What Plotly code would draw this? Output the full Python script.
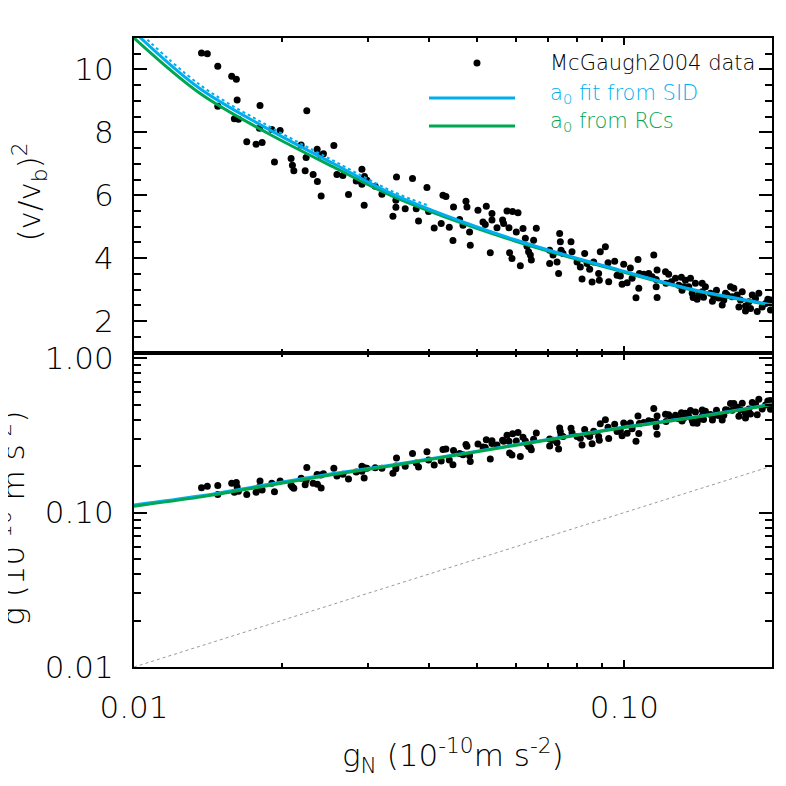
"""Two-panel plot: (v/v_b)^2 and g versus g_N, McGaugh2004 data with a0 fits"""

import numpy as np
import plotly.graph_objects as go
from plotly.subplots import make_subplots

# McGaugh2004 data points: Newtonian acceleration and (v/v_b)^2
gN_data = [
    0.01373, 0.01411, 0.01482, 0.01582, 0.01617, 0.01623, 0.01482, 0.01807, 0.02251, 0.01602,
    0.01633, 0.01802, 0.0191, 0.01986, 0.01698, 0.01774, 0.01825, 0.02192, 0.02363, 0.02556,
    0.02434, 0.02404, 0.02091, 0.02244, 0.01934, 0.02104, 0.02118, 0.02234, 0.02319, 0.02366,
    0.02593, 0.02408, 0.02667, 0.02738, 0.02839, 0.02916, 0.02916, 0.02951, 0.02985, 0.02947,
    0.03203, 0.03104, 0.0343, 0.03698, 0.03957, 0.0342, 0.0342, 0.03373, 0.03573, 0.03763,
    0.03804, 0.03987, 0.04266, 0.04326, 0.04483, 0.04753, 0.04775, 0.05028, 0.04231, 0.04094,
    0.04395, 0.04613, 0.04687, 0.04834, 0.04471, 0.0485, 0.05229, 0.0537, 0.05763, 0.05916,
    0.06069, 0.05148, 0.05204, 0.0537, 0.05645, 0.05672, 0.05498, 0.05817, 0.0602, 0.06213,
    0.06613, 0.05328, 0.05833, 0.05899, 0.06281, 0.0653, 0.0633, 0.06378, 0.0643, 0.06135,
    0.0646, 0.07379, 0.07403, 0.07041, 0.07154, 0.07041, 0.0729, 0.07427, 0.07496, 0.07783,
    0.0782, 0.07343, 0.08299, 0.08007, 0.08132, 0.08393, 0.08657, 0.08496, 0.08197, 0.08593,
    0.0893, 0.09147, 0.08861, 0.0889, 0.09262, 0.09555, 0.0929, 0.09663, 0.09813, 0.09968,
    0.10285, 0.09892, 0.1013, 0.1037, 0.1066, 0.1073, 0.1095, 0.1121, 0.107, 0.1148,
    0.1166, 0.1139, 0.1161, 0.1161, 0.1056, 0.1166, 0.1213, 0.1231, 0.1216, 0.1247,
    0.1271, 0.1307, 0.1332, 0.1364, 0.1291, 0.1321, 0.1353, 0.1311, 0.1381, 0.1396,
    0.1375, 0.1407, 0.1418, 0.1441, 0.1463, 0.1441, 0.1498, 0.1521, 0.1583, 0.1595,
    0.1621, 0.1608, 0.1646, 0.1672, 0.1659, 0.1698, 0.1739, 0.1712, 0.1766, 0.1794,
    0.1808, 0.1823, 0.1851, 0.188, 0.191, 0.194, 0.1961, 0.1866, 0.1766,
    0.1986, 0.1986, 0.1512, 0.1556, 0.1725, 0.145, 0.1541,
]
ratio_data = [
    10.52, 10.50, 10.10, 9.78, 9.69, 9.03, 8.83, 8.85, 8.69, 8.43,
    8.42, 8.13, 8.09, 8.06, 7.70, 7.62, 7.68, 7.60, 7.46, 7.58,
    7.32, 7.28, 7.17, 7.20, 7.06, 6.95, 6.78, 6.78, 6.66, 6.44,
    6.66, 5.98, 6.63, 6.02, 6.45, 6.35, 6.83, 6.60, 6.48, 5.68,
    6.03, 6.29, 6.58, 6.53, 6.25, 5.84, 5.62, 5.33, 5.57, 5.57,
    5.18, 5.48, 6.00, 5.96, 5.63, 5.81, 5.63, 5.52, 5.10, 4.96,
    4.98, 5.23, 5.05, 4.83, 4.56, 4.41, 5.65, 5.42, 5.50, 5.48,
    5.44, 5.15, 5.07, 5.21, 5.21, 5.10, 4.97, 4.97, 4.83, 4.94,
    4.95, 4.17, 4.17, 3.99, 4.63, 4.57, 4.38, 4.20, 4.10, 3.76,
    3.94, 4.78, 4.52, 4.25, 4.10, 3.83, 3.88, 4.25, 4.15, 4.52,
    4.20, 3.51, 4.15, 3.88, 3.72, 3.83, 3.88, 3.65, 3.34, 3.24,
    4.20, 4.36, 3.51, 3.30, 3.85, 3.90, 3.25, 3.46, 3.43, 3.81,
    3.69, 3.17, 3.22, 3.36, 3.96, 3.51, 3.49, 3.51, 3.04, 4.10,
    3.62, 3.41, 3.32, 3.09, 2.74, 2.75, 3.57, 3.49, 3.20, 3.25,
    3.36, 3.39, 3.30, 3.36, 3.14, 3.09, 3.09, 2.98, 2.75, 3.20,
    2.88, 2.69, 2.83, 3.20, 3.09, 2.93, 2.88, 2.79, 2.51, 2.67,
    2.83, 2.88, 3.09, 3.04, 2.77, 2.83, 2.93, 2.45, 2.48, 2.61,
    2.40, 2.83, 2.72, 2.88, 2.45, 2.56, 2.69, 2.30, 2.32,
    2.67, 2.35, 2.63, 2.73, 2.67, 2.76, 2.98,
]

# fitted curves
fit_gN = [0.01, 0.0136, 0.0187, 0.0255, 0.0338, 0.0594, 0.1, 0.1364, 0.2]
fit_ratio_sid = [11.2, 9.40, 8.12, 7.01, 6.03, 4.60, 3.58, 3.02, 2.52]
fit_ratio_rc = [11.0, 9.25, 7.98, 6.90, 5.96, 4.56, 3.55, 3.00, 2.50]
# upper edge of the SID band (top-left of the upper panel)
band_gN = [0.01, 0.0136, 0.0187, 0.0255, 0.0338, 0.0400]
band_ratio = [11.35, 9.52, 8.22, 7.10, 6.11, 5.66]

one_to_one = [0.01, 0.2]

x_ticks = [0.01, 0.1]
x_ticktext = ["0.01", "0.10"]
x_minor = [0.02, 0.03, 0.04, 0.05, 0.06, 0.07, 0.08, 0.09, 0.2]
ratio_ticks = [2, 4, 6, 8, 10]
g_ticks = [0.01, 0.1, 1.0]
g_ticktext = ["0.01", "0.10", "1.00"]
g_minor = [0.02, 0.03, 0.04, 0.05, 0.06, 0.07, 0.08, 0.09,
           0.2, 0.3, 0.4, 0.5, 0.6, 0.7, 0.8, 0.9]

BLUE = "#00AEEF"
GREEN = "#00A651"
FONT = "DejaVu Sans"

g_data = np.array(ratio_data) * np.array(gN_data)
g_fit_sid = np.array(fit_ratio_sid) * np.array(fit_gN)
g_fit_rc = np.array(fit_ratio_rc) * np.array(fit_gN)

fig = make_subplots(rows=2, cols=1, shared_xaxes=True, vertical_spacing=0)

# upper panel
fig.add_trace(go.Scatter(x=gN_data, y=ratio_data, mode="markers",
                         marker=dict(color="black", size=7)), row=1, col=1)
fig.add_trace(go.Scatter(x=fit_gN, y=fit_ratio_rc, mode="lines", line_shape="spline",
                         line=dict(color=GREEN, width=3)), row=1, col=1)
fig.add_trace(go.Scatter(x=band_gN, y=band_ratio, mode="lines", line_shape="spline",
                         line=dict(color=BLUE, width=2, dash="dot")), row=1, col=1)
fig.add_trace(go.Scatter(x=fit_gN, y=fit_ratio_sid, mode="lines", line_shape="spline",
                         line=dict(color=BLUE, width=3)), row=1, col=1)

# lower panel
fig.add_trace(go.Scatter(x=one_to_one, y=one_to_one, mode="lines",
                         line=dict(color="#9a9a9a", width=1, dash="dot")), row=2, col=1)
fig.add_trace(go.Scatter(x=gN_data, y=g_data, mode="markers",
                         marker=dict(color="black", size=7)), row=2, col=1)
fig.add_trace(go.Scatter(x=fit_gN, y=g_fit_sid, mode="lines", line_shape="spline",
                         line=dict(color=BLUE, width=3)), row=2, col=1)
fig.add_trace(go.Scatter(x=fit_gN, y=g_fit_rc, mode="lines", line_shape="spline",
                         line=dict(color=GREEN, width=3)), row=2, col=1)

axis_style = dict(showline=True, linecolor="black", linewidth=2, mirror="ticks",
                  ticks="inside", tickcolor="black", tickwidth=1.5,
                  showgrid=False, zeroline=False, ticklabelstandoff=12,
                  automargin=False,
                  tickfont=dict(family=FONT, size=31, color="black", weight=200))

x_style = dict(axis_style, type="log", range=[-2, np.log10(0.2)],
               tickvals=x_ticks, ticktext=x_ticktext, ticklen=7,
               minor=dict(ticks="inside", ticklen=4, tickvals=x_minor,
                          tickcolor="black", tickwidth=1.5, showgrid=False))
fig.update_xaxes(x_style, showticklabels=False, row=1, col=1)
fig.update_xaxes(x_style, row=2, col=1)

fig.update_yaxes(axis_style, range=[1, 11], tickvals=ratio_ticks, ticklen=13,
                 minor=dict(ticks="inside", ticklen=7, dtick=0.5, tick0=0,
                            tickcolor="black", tickwidth=1.5, showgrid=False),
                 row=1, col=1)
fig.update_yaxes(axis_style, type="log", range=[-2, 0.036], tickvals=g_ticks,
                 ticktext=g_ticktext, ticklen=13,
                 minor=dict(ticks="inside", ticklen=7, tickvals=g_minor,
                            tickcolor="black", tickwidth=1.5, showgrid=False),
                 row=2, col=1)

title_font = dict(family=FONT, size=31, color="black", weight=200)
legend_font = dict(family=FONT, size=21, weight=200)

annotations = [
    dict(text="(v/v<sub>b</sub>)<sup>2</sup>", x=-0.164, y=0.755, textangle=-90,
         font=title_font),
    dict(text="g (10<sup>-10</sup> m s<sup>-2</sup>)", x=-0.193, y=0.237, textangle=-90,
         font=title_font),
    dict(text="g<sub>N</sub> (10<sup>-10</sup>m s<sup>-2</sup>)", x=0.5, y=-0.14,
         font=title_font),
    dict(text="McGaugh2004 data", x=0.6489, y=0.9603, xanchor="left",
         font=dict(legend_font, color="black")),
    dict(text="a<sub>0</sub> fit from SID", x=0.6489, y=0.911, xanchor="left",
         font=dict(legend_font, color=BLUE)),
    dict(text="a<sub>0</sub> from RCs", x=0.6489, y=0.867, xanchor="left",
         font=dict(legend_font, color=GREEN)),
]
for a in annotations:
    a.setdefault("xanchor", "center")
    a.update(xref="paper", yref="paper", yanchor="middle", showarrow=False)

shapes = [
    dict(type="line", xref="paper", yref="paper", x0=0.4624, x1=0.5972,
         y0=0.9046, y1=0.9046, line=dict(color=BLUE, width=3)),
    dict(type="line", xref="paper", yref="paper", x0=0.4624, x1=0.5972,
         y0=0.8601, y1=0.8601, line=dict(color=GREEN, width=3)),
    dict(type="circle", xref="paper", yref="paper", xsizemode="pixel",
         ysizemode="pixel", xanchor=0.5376, yanchor=0.9603,
         x0=-3.5, x1=3.5, y0=-3.5, y1=3.5, fillcolor="black", line=dict(width=0)),
]

# the page body adds an 8px offset, so the figure is 8px smaller than the window
fig.update_layout(
    width=778, height=778,
    margin=dict(l=126, r=14, t=30, b=119),
    plot_bgcolor="white", paper_bgcolor="white",
    showlegend=False,
    annotations=annotations,
    shapes=shapes,
)

fig.write_html("out.html")
